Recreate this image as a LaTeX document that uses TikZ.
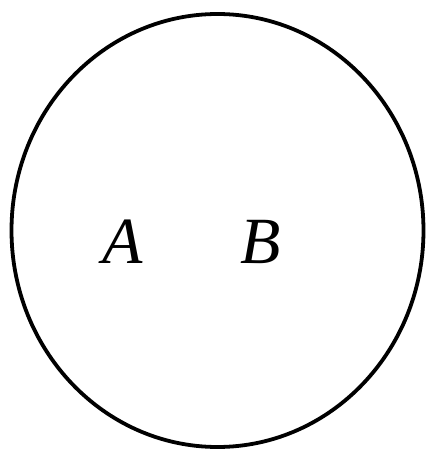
\documentclass[tikz,border=0pt]{standalone}
\usepackage{fontspec}
\setmainfont{Liberation Serif}
\usetikzlibrary{shapes.geometric}
\begin{document}
\begin{tikzpicture}[x=1pt,y=1pt,
  lbl/.style={font=\fontsize{66}{66}\selectfont\itshape, inner sep=0pt, anchor=base}]
\useasboundingbox (0,0) rectangle (429,451);
\node[draw, line width=3.8pt, ellipse, minimum width=412pt, minimum height=433pt, inner sep=0pt] (circ) at (217.5,220.5) {};
\node[lbl] (A) at (123,187) {A};
\node[lbl] (B) at (261,187) {B};
\end{tikzpicture}
\end{document}
